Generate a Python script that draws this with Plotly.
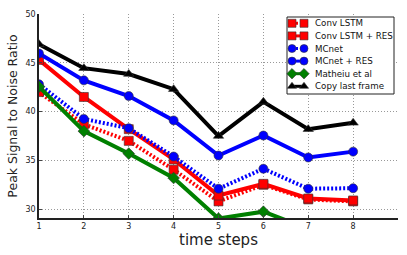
import plotly.graph_objects as go

steps = [1, 2, 3, 4, 5, 6, 7, 8]
conv_lstm = [42.0, 38.7, 37.0, 34.05, 30.8, 32.5, 31.0, 30.8]
conv_lstm_res = [45.3, 41.5, 38.2, 35.1, 31.4, 32.6, 31.1, 30.9]
mcnet = [42.8, 39.25, 38.3, 35.4, 32.1, 34.15, 32.1, 32.15]
mcnet_res = [45.95, 43.2, 41.6, 39.1, 35.5, 37.55, 35.3, 35.9]
mathieu = [42.55, 38.0, 35.7, 33.2, 29.05, 29.75, 28.0, 27.6]
copy_last = [46.9, 44.45, 43.85, 42.3, 37.5, 41.0, 38.2, 38.85]

x_ticks = [1, 2, 3, 4, 5, 6, 7, 8]
y_ticks = [30, 35, 40, 45, 50]

DOT = "2px,2px"
series = [
    ("Conv LSTM", conv_lstm, "#ff0000", DOT, "square"),
    ("Conv LSTM + RES", conv_lstm_res, "#ff0000", "solid", "square"),
    ("MCnet", mcnet, "#0000ff", DOT, "circle"),
    ("MCnet + RES", mcnet_res, "#0000ff", "solid", "circle"),
    ("Matheiu et al", mathieu, "#008000", "solid", "diamond"),
    ("Copy last frame", copy_last, "#000000", "solid", "triangle-up"),
]

# plot area in pixels (left, right, top, bottom)
PL, PR, PT, PB = 39, 398, 14, 218
W, H = 407, 255

fig = go.Figure()
for name, vals, col, dash, sym in series:
    fig.add_trace(go.Scatter(
        x=steps, y=vals, name=name, mode="lines+markers", showlegend=False,
        line=dict(color=col, width=4, dash=dash),
        marker=dict(symbol=sym, size=9, color=col,
                    line=dict(color="#333333", width=0.6)),
    ))

# hand-built compact legend on an overlay axis measured in pixels
leg_x0, leg_x1, leg_y0, leg_y1 = 287, 394, 17, 94
row_y0, row_dy = 23.3, 12.6
sample_x = [292, 304]
text_x = 313
fig.add_trace(go.Scatter(
    x=[leg_x0, leg_x1, leg_x1, leg_x0, leg_x0],
    y=[leg_y0, leg_y0, leg_y1, leg_y1, leg_y0],
    xaxis="x2", yaxis="y2", mode="lines", fill="toself", fillcolor="white",
    line=dict(color="#222222", width=1), showlegend=False, hoverinfo="skip",
))
for i, (name, vals, col, dash, sym) in enumerate(series):
    yy = row_y0 + i * row_dy
    fig.add_trace(go.Scatter(
        x=sample_x, y=[yy, yy], xaxis="x2", yaxis="y2", mode="lines+markers",
        showlegend=False, hoverinfo="skip",
        line=dict(color=col, width=3, dash=dash),
        marker=dict(symbol=sym, size=8, color=col,
                    line=dict(color="#333333", width=0.6)),
    ))
    fig.add_annotation(x=text_x, y=yy, xref="x2", yref="y2", text=name,
                       showarrow=False, xanchor="left", yanchor="middle",
                       font=dict(size=8.7, family="DejaVu Sans", color="#111111"))

GRID = "1px,2px"
fig.update_layout(
    width=W, height=H,
    margin=dict(l=PL, r=W - PR, t=PT, b=H - PB),
    paper_bgcolor="white", plot_bgcolor="white",
    font=dict(family="DejaVu Sans", color="#222222", size=8),
    showlegend=False,
    xaxis2=dict(overlaying="x", range=[PL, PR], visible=False, showgrid=False,
                zeroline=False, fixedrange=True),
    yaxis2=dict(overlaying="y", range=[PB, PT], visible=False, showgrid=False,
                zeroline=False, fixedrange=True),
    xaxis=dict(range=[1, 9], tickvals=x_ticks,
               ticktext=[str(t) for t in x_ticks],
               showgrid=True, gridcolor="#999999", griddash=GRID, gridwidth=1,
               showline=True, linecolor="#222222", linewidth=1.5, zeroline=False,
               ticks="inside", ticklen=3, tickfont=dict(size=8), automargin=False,
               title=dict(text="time steps", font=dict(size=15), standoff=3)),
    yaxis=dict(range=[29.1, 50], tickvals=y_ticks,
               ticktext=[str(t) for t in y_ticks],
               showgrid=True, gridcolor="#999999", griddash=GRID, gridwidth=1,
               showline=True, linecolor="#222222", linewidth=1.5, zeroline=False,
               ticks="inside", ticklen=3, tickfont=dict(size=8), automargin=False,
               title=dict(text="Peak Signal to Noise Ratio", font=dict(size=12.5),
                          standoff=5)),
)

fig.write_html("out.html", config={"displayModeBar": False},
               post_script="document.body.style.margin='0';document.body.style.padding='0';")
